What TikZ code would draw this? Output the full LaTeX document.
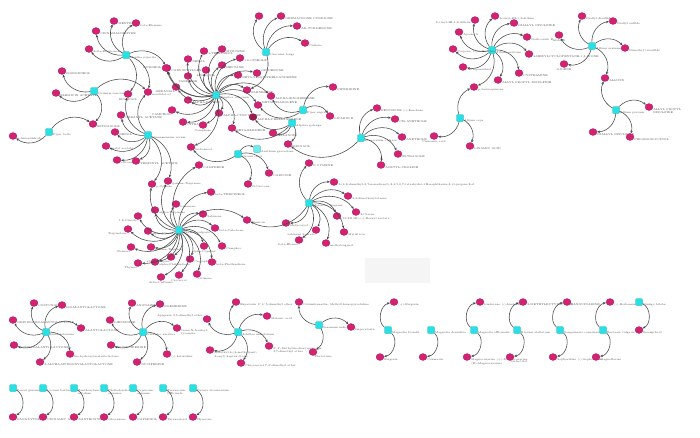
\documentclass[tikz,border=0pt]{standalone}
\usetikzlibrary{shapes.geometric,arrows.meta}
\definecolor{leafc}{RGB}{210,35,115}
\definecolor{leafd}{RGB}{150,30,75}
\definecolor{hubc}{RGB}{40,225,230}
\definecolor{hubl}{RGB}{110,235,235}
\tikzset{
 leaf/.style={ellipse,fill=leafc,draw=leafc!80!black,line width=0.2pt,minimum width=8pt,minimum height=7pt,inner sep=0pt},
 hub/.style={rectangle,rounded corners=1.2pt,fill=hubc,draw=hubc!75!black,line width=0.2pt,minimum size=7pt,inner sep=0pt},
 lab/.style={font=\fontsize{2.7}{3.1}\selectfont,text=black!70,inner sep=0.3pt,align=left},
 edge/.style={draw=black!72,line width=0.55pt,-{Stealth[length=3pt,width=2.4pt]}},
}
\newcommand\mkleaf[5][-20]{\node[leaf,label={[lab]#1:{#5}}] (#2) at (#3,#4) {};}
\newcommand\mkhub[5][-20]{\node[hub,label={[lab]#1:{#5}}] (#2) at (#3,#4) {};}
\newcommand\conn[2]{\draw[edge] (#1) to[bend left=42] (#2);}
\newcommand\connb[3]{\draw[edge] (#1) to[bend left=#3] (#2);}
\begin{document}
\begin{tikzpicture}[x=1pt,y=-1pt]
\fill[white] (0,0) rectangle (700,437);
\useasboundingbox (0,0) rectangle (700,437);
\fill[black!4] (365,258) rectangle (430,283);
% ---------- main cluster hubs
\mkhub{A}{126}{55}{Mentha piperita}
\mkhub{B}{94}{91}{Ocimum sanctum}
\mkhub{C}{49}{132}{Piper betle}
\mkhub{D}{148}{135}{Cinnamomum verum}
\mkhub{E}{216}{95}{Zingiber officinale}
\mkhub{F}{266}{52}{Curcuma longa}
\mkhub{G}{303}{110}{Piper nigrum}
\mkhub{H}{292}{123}{Alpinia galanga}
\mkhub{I}{238}{154}{Carum carvi}
\node[hub,fill=hubl,label={[lab]-20:{Anethum graveolens}}] (I2) at (257,149) {};
\mkhub{Q}{179}{230}{Thymus vulgaris}
\mkhub{R}{309}{203}{Myristica fragrans}
\mkhub{J}{361}{138}{Foeniculum vulgare}
\mkhub{K}{460}{118}{Allium cepa}
\mkhub{L}{492}{50}{Allium sativum}
\mkhub{M}{592}{46}{Allium ursinum}
\mkhub{N}{616}{110}{Allium porrum}
% ---------- leaves A B C D
\mkleaf{a1}{114}{21}{MENTHONE}
\mkleaf{a2}{136}{23}{beta-Elemene}
\mkleaf{a3}{96}{31}{CINNAMALDEHYDE}
\mkleaf{a4}{89}{49}{delta-Bourbonene}
\mkleaf{a5}{167}{68}{CARYOPHYLLENE}
\mkleaf{b1}{62}{71}{ISOBORNEOL}
\mkleaf{b2}{56}{93}{ELEMICIN ACETATE}
\mkleaf{ab}{148}{92}{nerolidol-ol}
\mkleaf[-90]{ab2}{128}{94}{EUGENOL}
\mkleaf{c1}{13}{136}{p-Anisaldehyde}
\mkleaf{bc}{93}{124}{ESTRAGOLE}
\mkleaf{d1}{121}{115}{GERANYL ACETATE}
\mkleaf{d2}{115}{132}{NEROL}
\mkleaf{d3}{106}{146}{linalyl acetate}
\mkleaf{d4}{117}{160}{citronellol}
\mkleaf{d5}{136}{161}{TERPINYL ACETATE}
\mkleaf{d6}{152}{184}{p-Cymene}
\mkleaf{d7}{168}{181}{gamma-Terpinene}
% ---------- leaves Q
\mkleaf{q1}{155}{210}{alpha-Terpinene}
\mkleaf[-100]{q2}{138}{216}{1,8-Cineole}
\mkleaf[-100]{q3}{128}{229}{Terpinolene}
\mkleaf{q4}{148}{231}{alpha-Pinene}
\mkleaf[-100]{q5}{131}{247}{Borneol}
\mkleaf{q6}{151}{247}{gamma-Terpineol}
\mkleaf[-100]{q7}{138}{263}{Thymol}
\mkleaf{q8}{155}{262}{alpha-Phellandrene}
\mkleaf[-90]{q9}{161}{277}{delta-Cadinene}
\mkleaf{q10}{199}{165}{CAMPHENE}
\mkleaf{q11}{211}{192}{beta-TERPINEOL}
\mkleaf{q12}{176}{204}{Limonene}
\mkleaf{q13}{203}{214}{Sabinene}
\mkleaf{q14}{215}{228}{beta-Cubebene}
\mkleaf{q15}{222}{246}{Camphor}
\mkleaf[-90]{q16}{204}{246}{alpha-Copaene}
\mkleaf{q17}{190}{259}{Caryophyllene}
\mkleaf{q18}{212}{262}{beta-Phellandrene}
\mkleaf[-80]{q19}{197}{274}{Ocimene}
\mkleaf[-90]{q20}{179}{275}{Carvacrol}
\mkleaf[-100]{q21}{171}{257}{alpha-Thujene}
\mkleaf{qr}{247}{220}{Elemicin}
% ---------- leaves E
\mkleaf[180]{e1}{166}{68}{BORNEOL}
\mkleaf{e2}{188}{59}{NERAL}
\mkleaf{e3}{204}{51}{4-TERPINEOL}
\mkleaf{e4}{222}{49}{MYRCENE}
\mkleaf{e5}{240}{58}{1,8-CINEOLE}
\mkleaf{e6}{222}{65}{HEPTANE}
\mkleaf[-90]{e7}{206}{70}{LINALOOL}
\mkleaf[-90]{e8}{188}{76}{SABINENE}
\mkleaf{e9}{238}{75}{BETA-SESQUIPHELLANDRENE}
\mkleaf[20]{e10}{257}{73}{GINGERONE}
\mkleaf[-100]{e11}{176}{87}{GERANIAL}
\mkleaf{e12}{188}{100}{ALPHA-PINENE}
\mkleaf[-100]{e13}{172}{110}{CAMPHOR}
\mkleaf{e14}{183}{122}{CITRAL}
\mkleaf[-90]{e15}{203}{125}{Camphene}
\mkleaf{e16}{219}{113}{ALPHA-CURCUMENE}
\mkleaf{e17}{247}{90}{FARNESENE}
\node[leaf,fill=leafd,label={[lab]-20:{ALPHA-PHELLANDRENE}}] (e18) at (253,117) {};
\mkleaf[20]{e19}{258}{105}{BETA-BISABOLENE}
\mkleaf{e20}{271}{96}{ALPHA-ZINGIBERENE}
\mkleaf{e21}{232}{128}{BETA-ELEMENE}
\mkleaf{e22}{191}{147}{Isoborneol}
% ---------- leaves F G H I R J
\mkleaf{f1}{259}{16}{}
\mkleaf{f2}{281}{16}{GERMACRONE CURDIONE}
\mkleaf{f3}{297}{26}{AR-TURMERONE}
\mkleaf{f4}{305}{43}{Curlone}
\mkleaf{g1}{333}{87}{PIPERIDINE}
\mkleaf{g2}{330}{116}{LICARIN B}
\mkleaf{h1}{273}{133}{GALANGIN}
\mkleaf{i3}{288}{144}{SHOGAOL}
\mkleaf{i1}{269}{173}{CARVONE}
\mkleaf{i2}{248}{184}{D-Carvone}
\mkleaf{r1}{309}{163}{P-CYMENE}
\mkleaf{r2}{334}{182}{3-(4,8-dimethyl-3,7-nonadienyl)-2,4,5,6,7-tetrahydro-1H-naphthalen-3-yl-propan-2-ol}
\mkleaf{r3}{348}{196}{3,4-dimethoxytoluene}
\mkleaf{r4}{356}{212}{3-Carene}
\mkleaf{r5}{337}{216}{(1S,2R,5R)-(-)-Bornyl acetate}
\mkleaf{r6}{344}{232}{Myristicin}
\mkleaf[-100]{r7}{316}{230}{sabinene hydrate}
\mkleaf{r8}{326}{243}{methyleugenol}
\mkleaf[-100]{r9}{299}{240}{beta-Elemol}
\mkleaf{rr}{286}{223}{Hedycaryol}
\mkleaf{j1}{377}{108}{FENCHONE (-)-Fenchone}
\mkleaf{j2}{395}{119}{CIS-ANETHOLE}
\mkleaf{j3}{402}{137}{ANETHOLE}
\mkleaf{j4}{398}{154}{ESTRAGOLE}
\mkleaf{j5}{381}{165}{ACETYL-CHOLINE}
% ---------- leaves K L M N
\mkleaf{k1}{474}{87}{p-benzoquinone}
\mkleaf[-90]{k2}{434}{136}{Cinnamic acid}
\mkleaf{k3}{470}{146}{LINAMIC ACID}
\mkleaf{l1}{495}{16}{2-vinyl-4H-1,3-dithiin}
\mkleaf[200]{l2}{475}{20}{3-vinyl-4H-1,2-dithiin}
\mkleaf{l3}{514}{23}{DIALLYL DISULFIDE}
\mkleaf{l4}{459}{32}{Ajoene A}
\mkleaf{l5}{527}{37}{Garlicoside B}
\mkleaf{l6}{453}{49}{Propene, 1-(methylthio)-}
\mkleaf{l7}{529}{54}{4-HEXYLCYCLOPENTANE-1,3-DIONE}
\mkleaf{l8}{463}{67}{1-Propanethiol}
\mkleaf{l9}{519}{73}{CYSTEAMINE}
\mkleaf{l10}{498}{80}{ALLYL PROPYL DISULFIDE}
\mkleaf{m1}{582}{16}{Diallyl disulfide}
\mkleaf{m2}{613}{21}{Diallyl sulfide}
\mkleaf[-90]{m3}{559}{35}{ALLIIN}
\mkleaf{m4}{625}{48}{Dimethyl trisulfide}
\mkleaf[-90]{m5}{564}{64}{AJOENE}
\mkleaf{m6}{605}{78}{ALLICIN}
\mkleaf{n1}{649}{107}{ALLYL PROPYL\\DISULFIDE}
\mkleaf{n2}{593}{132}{DIALLYL DISULFIDE}
\mkleaf{n3}{630}{137}{PHLOROGLUCINOL}
% ---------- edges main cluster
\foreach \t in {a1,a2,a3,a4,a5,ab,ab2} {\conn{A}{\t}}
\foreach \t in {b1,b2,ab,bc} {\conn{B}{\t}}
\foreach \t in {c1,bc} {\conn{C}{\t}}
\foreach \t in {d1,d2,d3,d4,d5,d6,d7,ab,ab2} {\conn{D}{\t}}
\foreach \t in {e1,e2,e3,e4,e5,e6,e7,e8,e9,e10,e11,e12,e13,e14,e15,e16,e17,e18,e19,e20,e21,e22,a5} {\conn{E}{\t}}
\foreach \t in {f1,f2,f3,f4,e17} {\conn{F}{\t}}
\foreach \t in {g1,g2,e20,e19} {\conn{G}{\t}}
\foreach \t in {e18,h1,i3,e21} {\conn{H}{\t}}
\foreach \t in {i1,i2,e22,I2} {\conn{I}{\t}}
\foreach \t in {q1,q2,q3,q4,q5,q6,q7,q8,q9,q10,q11,q12,q13,q14,q15,q16,q17,q18,q19,q20,q21,qr,d6,d7} {\conn{Q}{\t}}
\foreach \t in {r1,r2,r3,r4,r5,r6,r7,r8,r9,rr,qr} {\conn{R}{\t}}
\foreach \t in {j1,j2,j3,j4,j5,i3} {\conn{J}{\t}}
\foreach \t in {k1,k2,k3} {\conn{K}{\t}}
\foreach \t in {l1,l2,l3,l4,l5,l6,l7,l8,l9,l10,k1} {\conn{L}{\t}}
\foreach \t in {m1,m2,m3,m4,m5,m6} {\conn{M}{\t}}
\foreach \t in {n1,n2,n3,m6} {\conn{N}{\t}}
% ---------- lower clusters
\mkhub{S}{46}{332}{Inula helenium}
\mkleaf{s1}{34}{303}{COSTUNOLIDE}
\mkleaf{s2}{62}{305}{ISOALANTOLACTONE}
\mkleaf{s3}{13}{320}{DIHYDROISOALANTOLACTONE}
\mkleaf{s4}{81}{328}{ALANTOLACTONE}
\mkleaf{s5}{14}{345}{5-OXOISOALANTOLACTONE}
\mkleaf{s6}{70}{354}{Iso-hydroxyisoalantolactone}
\mkleaf{s7}{40}{362}{2-ALPHA-HYDROXYALANTOLACTONE}
\foreach \t in {s1,s2,s3,s4,s5,s6,s7} {\conn{S}{\t}}
\mkhub{T}{143}{332}{Nelumbo nucifera}
\mkleaf{t1}{132}{303}{ANONAINE}
\mkleaf{t2}{160}{304}{ROEMERINE}
\mkleaf{t3}{110}{320}{LIENSININE}
\mkleaf{t4}{177}{328}{trans-N-feruloyl-\\tyramine}
\mkleaf{t5}{111}{345}{PRONUCIFERINE}
\mkleaf{t6}{167}{354}{(-)-Lirinidine}
\mkleaf{t7}{137}{362}{NUCIFERINE}
\foreach \t in {t1,t2,t3,t4,t5,t6,t7} {\conn{T}{\t}}
\mkhub{U}{238}{332}{Achillea millefolium}
\mkleaf{u1}{236}{302}{Eupatorin 3',4',5-dimethyl ether}
\mkleaf{u2}{267}{316}{Malonic acid}
\mkleaf[160]{u3}{207}{319}{Apigenin 3,5-dimethyl ether}
\mkleaf{u4}{269}{346}{3',4'-Methylenedioxyquercetin\\3,7-dimethyl ether}
\mkleaf{u5}{210}{350}{3-Methyl-6-(4-methylpent-\\3-enyl)-heptan-2-one}
\mkleaf{u6}{241}{363}{Chrysoeriol 7,4'-dimethyl ether}
\foreach \t in {u1,u2,u3,u4,u5,u6} {\conn{U}{\t}}
\mkhub{V}{319}{325}{Sesamum indicum}
\mkleaf{v1}{299}{302}{Columbianadin, Methylthioxopyrrolidine}
\mkleaf{v2}{351}{327}{Imperatorin}
\mkleaf[-80]{v3}{313}{352}{Thalictrine}
\foreach \t in {v1,v2,v3} {\conn{V}{\t}}
% ---------- pairs
\mkhub{W}{388}{330}{Magnolia biondii}
\mkleaf{w1}{394}{302}{(+)-Fargesin}
\mkleaf{w2}{380}{357}{Fargesin}
\mkhub{X}{431}{330}{Magnolia denudata}
\mkleaf{x1}{423}{357}{Coumarin}
\mkhub{Y}{474}{330}{Magnolia officinalis}
\mkleaf{y1}{480}{302}{Linderane (-)-Linderane}
\mkleaf{y2}{467}{357}{Magnocurarine (+)-Magnocurarine\\(R)-Magnocurarine}
\mkhub{Z}{517}{330}{Illicium stellatum}
\mkleaf{z1}{523}{302}{2-METHYLBUTYRIC ACID}
\mkleaf[-80]{z2}{510}{357}{Galactitol}
\mkhub{AA}{560}{330}{Sanguinaria canadensis}
\mkleaf{aa1}{567}{302}{SANGUINARINE}
\mkleaf{aa2}{553}{357}{Sophoridine (-)-Sophoridine}
\mkhub{AB}{603}{330}{Berberis vulgaris}
\mkleaf{ab1}{610}{302}{(-)-Berbamine}
\mkleaf{ab3}{596}{357}{Magnoflorine}
\mkhub{AC}{639}{302}{Ginkgo biloba}
\mkleaf{ac1}{639}{330}{Kaempferol}
\foreach \h/\t in {W/w1,W/w2,X/x1,Y/y1,Y/y2,Z/z1,Z/z2,AA/aa1,AA/aa2,AB/ab1,AB/ab3,AC/ac1} {\connb{\h}{\t}{65}}
% ---------- bottom row
\mkhub{P1}{13}{388}{Panax ginseng}
\mkleaf{p1}{13}{417}{PANAXYTRIOL}
\mkhub{P2}{43}{388}{Lycium barbarum}
\mkleaf{p2}{43}{417}{CINNAMIC ACID}
\mkhub{P3}{74}{388}{Zanthoxylum\\nitidum}
\mkleaf{p3}{74}{417}{XANTHOXYLIN}
\mkhub{P4}{104}{388}{Phellodendron\\chinense}
\mkleaf{p4}{104}{417}{Obacunone}
\mkhub{P5}{133}{388}{Capsicum\\annuum}
\mkleaf{p5}{133}{417}{CAPSIDIOL}
\mkhub{P6}{163}{388}{Taraxacum\\Officinale}
\mkleaf{p6}{163}{417}{Taraxasterol A}
\mkhub{P7}{193}{388}{Datura stramonium}
\mkleaf{p7}{193}{417}{Hyoscine}
\foreach \i in {1,...,7} {\connb{P\i}{p\i}{60}}
\end{tikzpicture}
\end{document}
